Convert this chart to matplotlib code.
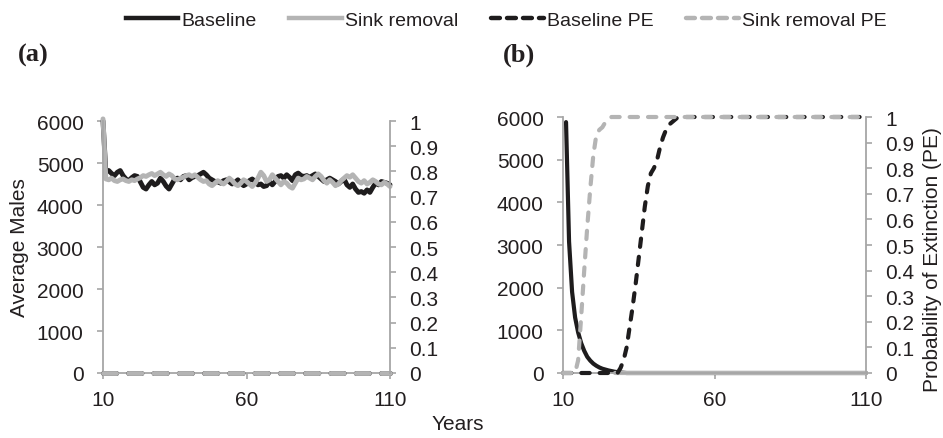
import numpy as np
import matplotlib
matplotlib.use("Agg")
import matplotlib.pyplot as plt
from matplotlib.lines import Line2D

# x axis: simulation years
years = list(range(10, 111))

# panel (a): average males, both scenarios persist
baseline_a = [
    6000, 4780, 4820, 4750, 4700, 4780, 4820, 4700, 4620, 4580,
    4650, 4700, 4680, 4550, 4420, 4380, 4480, 4560, 4480, 4520,
    4640, 4560, 4450, 4380, 4500, 4620, 4640, 4600, 4680, 4700,
    4600, 4650, 4680, 4700, 4740, 4780, 4720, 4640, 4600, 4560,
    4550, 4520, 4580, 4600, 4550, 4500, 4540, 4600, 4520, 4460,
    4500, 4580, 4620, 4560, 4480, 4500, 4440, 4460, 4560, 4480,
    4560, 4680, 4700, 4640, 4720, 4660, 4580, 4720, 4760, 4700,
    4680, 4700, 4660, 4700, 4740, 4680, 4620, 4560, 4600, 4640,
    4600, 4560, 4500, 4560, 4620, 4480, 4420, 4500, 4380, 4300,
    4320, 4280, 4360, 4300, 4420, 4520, 4480, 4560, 4540, 4520,
    4480,
]
sink_a = [
    6050, 4620, 4600, 4640, 4580, 4560, 4600, 4620, 4580, 4560,
    4600, 4580, 4620, 4650, 4700, 4680, 4720, 4750, 4700, 4740,
    4780, 4720, 4680, 4740, 4700, 4620, 4600, 4640, 4660, 4700,
    4720, 4680, 4720, 4660, 4600, 4560, 4580, 4500, 4460, 4520,
    4580, 4540, 4500, 4560, 4640, 4580, 4500, 4460, 4520, 4600,
    4560, 4500, 4440, 4520, 4640, 4780, 4700, 4560, 4600, 4720,
    4640, 4560, 4480, 4560, 4520, 4440, 4400, 4520, 4640, 4600,
    4620, 4680, 4640, 4600, 4680, 4740, 4680, 4580, 4520, 4600,
    4540, 4460, 4500, 4580, 4640, 4700, 4660, 4720, 4640, 4560,
    4520, 4580, 4500, 4540, 4600, 4560, 4500, 4480, 4540, 4500,
    4440,
]
baseline_pe_a = [0.0] * 101
sink_pe_a = [0.0] * 101

# panel (b): both scenarios go extinct
nan = np.nan
baseline_b = [nan, 5880, 3080, 1900, 1300, 950, 700, 520, 380, 290,
              220, 170, 130, 100, 80, 60, 45, 30, 20, 10, 5] + [0] * 80
sink_b = [nan] * 17 + [0] * 84
baseline_pe_b = [0] * 19 + [0.02, 0.05, 0.10, 0.18, 0.26, 0.35, 0.45, 0.55,
                            0.65, 0.73, 0.78, 0.80, 0.83, 0.88, 0.92, 0.95,
                            0.97, 0.98, 0.99] + [1.0] * 63
sink_pe_b = [0] * 5 + [0.05, 0.22, 0.40, 0.57, 0.72, 0.85, 0.93, 0.95, 0.96,
                       0.98, 0.99] + [1.0] * 85

labels = ["Baseline", "Sink removal", "Baseline PE", "Sink removal PE"]

BLACK = "#1e1c1d"
GRAY = "#b4b4b4"
AXIS = "#a6a6a6"
TEXT = "#231f20"

plt.rcParams['font.family'] = ['Liberation Sans', 'DejaVu Sans']
plt.rcParams['text.color'] = TEXT

fig = plt.figure(figsize=(9.43, 4.39), dpi=100)


def style_axes(ax, axr):
    ax.set_xlim(10, 110)
    ax.set_xticks([10, 60, 110])
    ax.set_ylim(0, 6000)
    ax.set_yticks(range(0, 6001, 1000))
    axr.set_ylim(0, 1)
    ticks = np.round(np.arange(0, 1.01, 0.1), 1)
    axr.set_yticks(ticks)
    axr.set_yticklabels(["0" if t == 0 else ("1" if t == 1 else f"{t:.1f}") for t in ticks])
    for a in (ax, axr):
        for s in a.spines.values():
            s.set_color(AXIS)
            s.set_linewidth(1.3)
        a.spines['top'].set_visible(False)
        a.tick_params(colors=AXIS, labelcolor=TEXT, labelsize=15, length=4.5, width=1.2)
    axr.spines['left'].set_visible(False)
    axr.spines['bottom'].set_visible(False)
    ax.spines['right'].set_visible(False)
    ax.tick_params(axis='y', pad=9.5)
    ax.tick_params(axis='x', pad=8)
    axr.tick_params(axis='y', pad=9.5)


def draw(ax, axr, base, sink, base_pe, sink_pe, lw, dash):
    ax.plot(years, base, color=BLACK, lw=lw, solid_capstyle='round', clip_on=False)
    ax.plot(years, sink, color=GRAY, lw=lw, solid_capstyle='round', clip_on=False)
    axr.plot(years, base_pe, color=BLACK, lw=lw, dashes=dash, dash_capstyle='round', clip_on=False)
    axr.plot(years, sink_pe, color=GRAY, lw=lw, dashes=dash, dash_capstyle='round', clip_on=False)


ax1 = fig.add_axes([103 / 943, 65 / 439, 287 / 943, 252 / 439])
ax1r = ax1.twinx()
style_axes(ax1, ax1r)
draw(ax1, ax1r, baseline_a, sink_a, baseline_pe_a, sink_pe_a, 3.5, (2.7, 2.5))

ax2 = fig.add_axes([563 / 943, 65 / 439, 303 / 943, 256 / 439])
ax2r = ax2.twinx()
style_axes(ax2, ax2r)
draw(ax2, ax2r, baseline_b, sink_b, baseline_pe_b, sink_pe_b, 3.0, (2.0, 2.4))

fig.text(20 / 943, 1 - 248 / 439, "Average Males", rotation=90, ha='center', va='center', fontsize=15)
fig.text(933 / 943, 1 - 260 / 439, "Probability of Extinction (PE)", rotation=90,
         ha='center', va='center', fontsize=15)
fig.text(458 / 943, 1 - 425 / 439, "Years", ha='center', va='center', fontsize=15)

fig.text(18 / 943, 1 - 55 / 439, "(a)", ha='left', va='center', fontsize=19,
         family=['Liberation Serif', 'DejaVu Serif'], weight='bold')
fig.text(503 / 943, 1 - 55 / 439, "(b)", ha='left', va='center', fontsize=19,
         family=['Liberation Serif', 'DejaVu Serif'], weight='bold')

handles = [
    Line2D([], [], color=BLACK, lw=3.2),
    Line2D([], [], color=GRAY, lw=3.2),
    Line2D([], [], color=BLACK, lw=3.2, dashes=(2.0, 1.6), dash_capstyle='round'),
    Line2D([], [], color=GRAY, lw=3.2, dashes=(2.0, 1.6), dash_capstyle='round'),
]
fig.legend(handles, labels, loc='center', bbox_to_anchor=(506 / 943, 1 - 21 / 439),
           ncol=4, frameon=False, handlelength=2.7, handletextpad=0.15,
           columnspacing=1.7, prop={'size': 14})

fig.savefig("out.png", dpi=100)
